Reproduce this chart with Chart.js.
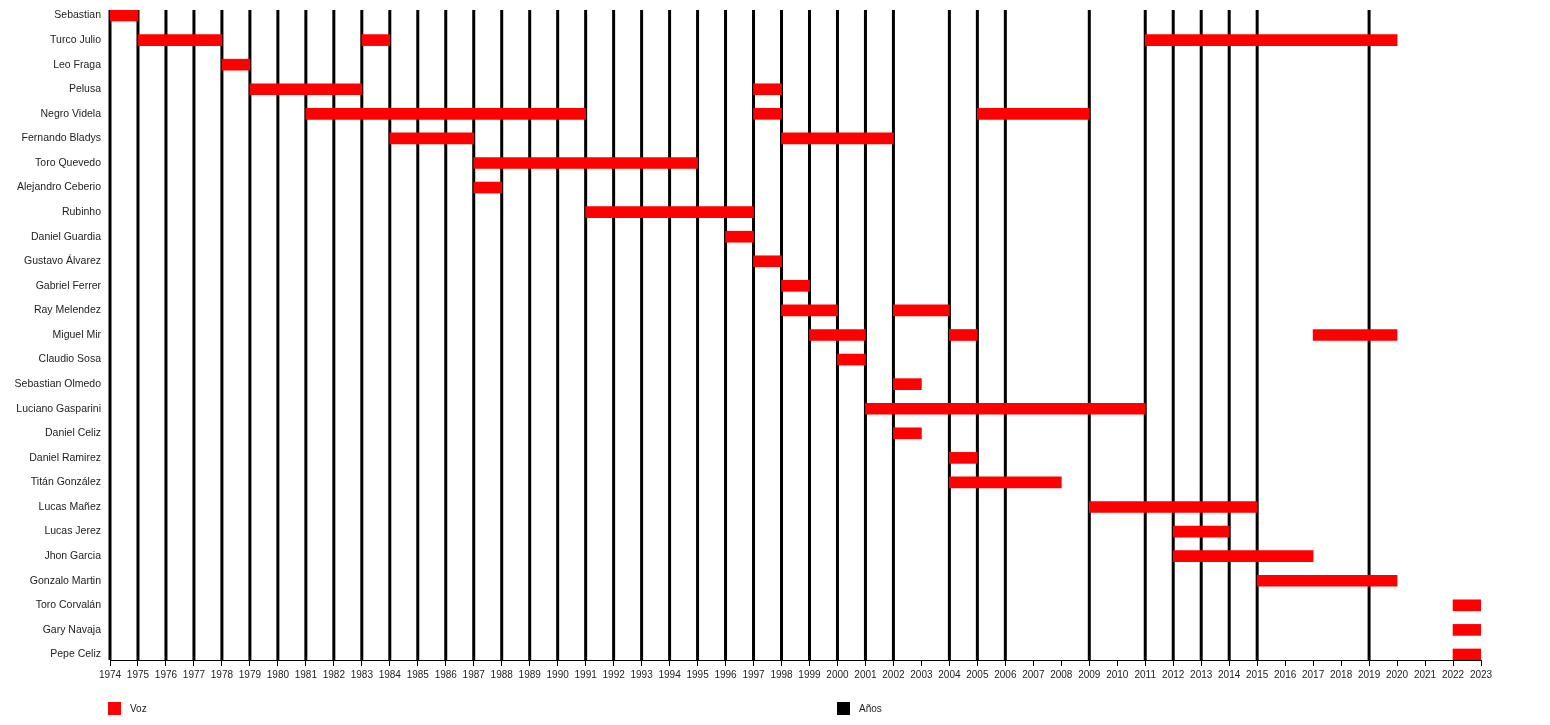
<!DOCTYPE html>
<html>
<head>
<meta charset="utf-8">
<script src="https://cdn.jsdelivr.net/npm/chart.js@4.4.1/dist/chart.umd.min.js"></script>
<style>
  body { margin: 0; background: #fff; font-family: "Liberation Sans", Arial, sans-serif; }
  #wrap { position: relative; width: 1550px; height: 725px; }
  .leg { position: absolute; top: 702px; font-size: 10px; color: #222; display: flex; align-items: center; }
  .leg span.box { display: inline-block; width: 13px; height: 13px; margin-right: 9px; }
</style>
</head>
<body>
<div id="wrap">
  <canvas id="chart"></canvas>
  <div id="legend"></div>
</div>
<script>
// integrantes (de arriba hacia abajo)
const names = [
  "Sebastian", "Turco Julio", "Leo Fraga", "Pelusa", "Negro Videla", "Fernando Bladys",
  "Toro Quevedo", "Alejandro Ceberio", "Rubinho", "Daniel Guardia", "Gustavo Álvarez",
  "Gabriel Ferrer", "Ray Melendez", "Miguel Mir", "Claudio Sosa", "Sebastian Olmedo",
  "Luciano Gasparini", "Daniel Celiz", "Daniel Ramirez", "Titán González", "Lucas Mañez",
  "Lucas Jerez", "Jhon Garcia", "Gonzalo Martin", "Toro Corvalán", "Gary Navaja", "Pepe Celiz"
];

// periodos en la voz: [fila, desde, hasta]
const periods = [
  [0, 1974, 1975],
  [1, 1975, 1978], [1, 1983, 1984], [1, 2011, 2020],
  [2, 1978, 1979],
  [3, 1979, 1983], [3, 1997, 1998],
  [4, 1981, 1991], [4, 1997, 1998], [4, 2005, 2009],
  [5, 1984, 1987], [5, 1998, 2002],
  [6, 1987, 1995],
  [7, 1987, 1988],
  [8, 1991, 1997],
  [9, 1996, 1997],
  [10, 1997, 1998],
  [11, 1998, 1999],
  [12, 1998, 2000], [12, 2002, 2004],
  [13, 1999, 2001], [13, 2004, 2005], [13, 2017, 2020],
  [14, 2000, 2001],
  [15, 2002, 2003],
  [16, 2001, 2011],
  [17, 2002, 2003],
  [18, 2004, 2005],
  [19, 2004, 2008],
  [20, 2009, 2015],
  [21, 2012, 2014],
  [22, 2012, 2017],
  [23, 2015, 2020],
  [24, 2022, 2023],
  [25, 2022, 2023],
  [26, 2022, 2023]
];

// años marcados con línea negra
const years = [
  1974, 1975, 1976, 1977, 1978, 1979, 1980, 1981, 1982, 1983, 1984, 1985, 1986, 1987,
  1988, 1989, 1990, 1991, 1992, 1993, 1994, 1995, 1996, 1997, 1998, 1999, 2000, 2001,
  2002, 2004, 2005, 2006, 2009, 2011, 2012, 2013, 2014, 2015, 2019
];

const xMin = 1974, xMax = 2023;
const yPad = 0.225;
const yMin = -yPad, yMax = names.length - 1 + yPad;

const barData = periods.map(p => ({ x: [p[1], p[2]], y: p[0] }));

const lineData = [];
years.forEach(yr => {
  lineData.push({ x: yr, y: yMin }, { x: yr, y: yMax }, { x: yr, y: null });
});

const chart = new Chart(document.getElementById("chart"), {
  data: {
    datasets: [
      {
        type: "bar",
        label: "Voz",
        indexAxis: "y",
        data: barData,
        backgroundColor: "#ff0000",
        barThickness: 11,
        borderSkipped: false,
        order: 1
      },
      {
        type: "line",
        label: "Años",
        data: lineData,
        borderColor: "#000000",
        backgroundColor: "#000000",
        borderWidth: 3,
        borderCapStyle: "butt",
        pointRadius: 0,
        spanGaps: false,
        clip: { left: 3, right: 3, top: 0, bottom: 0 },
        order: 2
      }
    ]
  },
  options: {
    responsive: true,
    maintainAspectRatio: false,
    animation: false,
    layout: { padding: { top: 10, right: 69, left: 0, bottom: 0 } },
    plugins: {
      legend: { display: false },
      tooltip: { enabled: false }
    },
    scales: {
      x: {
        type: "linear",
        min: xMin,
        max: xMax,
        offset: false,
        grid: { drawOnChartArea: false, drawTicks: true, tickLength: 6, tickColor: "#000", lineWidth: 1, offset: false },
        border: { display: true, color: "#000", width: 1 },
        ticks: {
          stepSize: 1,
          autoSkip: false,
          maxRotation: 0,
          padding: 3,
          color: "#222",
          font: { family: "'Liberation Sans', Arial, sans-serif", size: 10 },
          callback: v => String(v)
        },
        afterFit: scale => { scale.height = 65; }
      },
      y: {
        type: "linear",
        reverse: true,
        min: yMin,
        max: yMax,
        offset: false,
        grid: { display: false, drawTicks: false, offset: false },
        border: { display: false },
        afterBuildTicks: scale => { scale.ticks = names.map((n, i) => ({ value: i })); },
        ticks: {
          autoSkip: false,
          padding: 9,
          color: "#222",
          font: { family: "'Liberation Sans', Arial, sans-serif", size: 10.5 },
          callback: v => names[v]
        },
        afterFit: scale => {
          scale.width = 110;
          scale.paddingTop = 0;
          scale.paddingBottom = 0;
        }
      }
    }
  }
});

// leyenda inferior a partir de los datasets
const legendPos = [108, 837];
const legend = document.getElementById("legend");
chart.data.datasets.forEach((ds, i) => {
  const item = document.createElement("div");
  item.className = "leg";
  item.style.left = legendPos[i] + "px";
  item.innerHTML = `<span class="box" style="background:${ds.backgroundColor}"></span>${ds.label}`;
  legend.appendChild(item);
});
</script>
</body>
</html>
